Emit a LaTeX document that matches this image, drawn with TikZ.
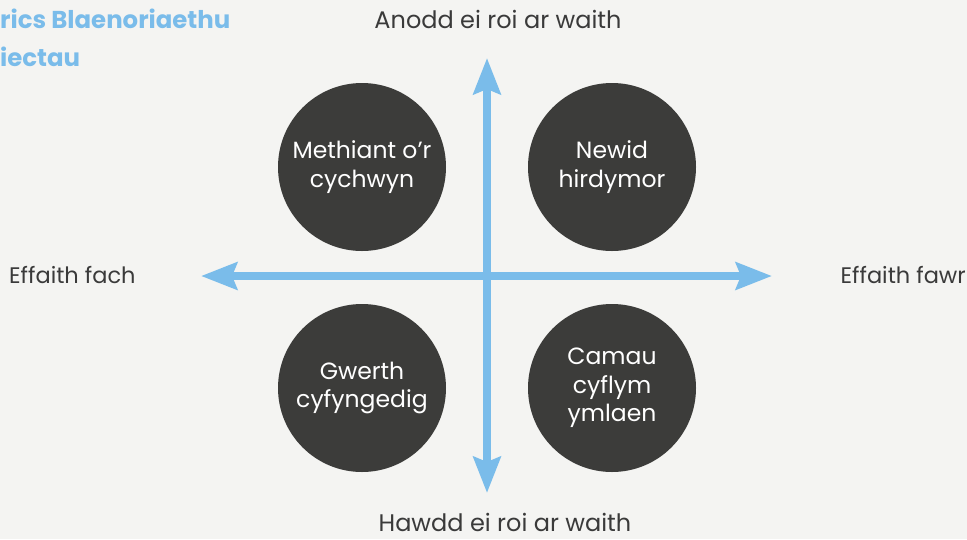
\documentclass[tikz,border=0pt]{standalone}
\usepackage{fontspec}
\setmainfont{Poppins}
\usetikzlibrary{arrows.meta}
\definecolor{bg}{HTML}{F4F4F2}
\definecolor{axisblue}{HTML}{7ABCEA}
\definecolor{circ}{HTML}{3C3C3A}
\definecolor{txt}{HTML}{3A3A3A}
\begin{document}
\begin{tikzpicture}[x=1pt,y=-1pt,
  quad/.style={circle, fill=circ, minimum size=168pt, inner sep=0pt, text=white,
    font=\fontsize{23.5}{28.5}\selectfont, align=center},
  axislabel/.style={text=txt, font=\fontsize{24}{28}\selectfont, anchor=base, inner sep=0pt},
  sidelabel/.style={axislabel, font=\fontsize{22.5}{26}\selectfont},
  titletext/.style={text=axisblue, font=\fontsize{24.4}{28}\selectfont\bfseries, anchor=base west, inner sep=0pt},
  axisarrow/.style={draw=axisblue, line width=8pt,
    arrows={Stealth[length=36pt,width=27pt,inset=5pt]-Stealth[length=36pt,width=27pt,inset=5pt]}}
]
\fill[bg] (0,0) rectangle (967,539);
\useasboundingbox (0,0) rectangle (967,539);

\coordinate (L) at (201,276);
\coordinate (R) at (772,276);
\coordinate (T) at (487,58);
\coordinate (B) at (487,493);
\draw[axisarrow] (L) -- (R);
\draw[axisarrow] (B) -- (T);

\node[quad] (q1) at (362,167) {Methiant o’r\\cychwyn};
\node[quad] (q2) at (612,167) {Newid\\hirdymor};
\node[quad] (q3) at (362,388) {Gwerth\\cyfyngedig};
\node[quad] (q4) at (612,388) {Camau\\cyflym\\ymlaen};

\node[axislabel] (top) at (498,28) {Anodd ei roi ar waith};
\node[axislabel] (bot) at (505,531) {Hawdd ei roi ar waith};
\node[sidelabel, anchor=base west] (left) at (9,283) {Effaith fach};
\node[sidelabel, anchor=base east] (right) at (966,283) {Effaith fawr};

\node[titletext] (t1) at (0,28) {rics Blaenoriaethu};
\node[titletext] (t2) at (0,66) {iectau};
\end{tikzpicture}
\end{document}
